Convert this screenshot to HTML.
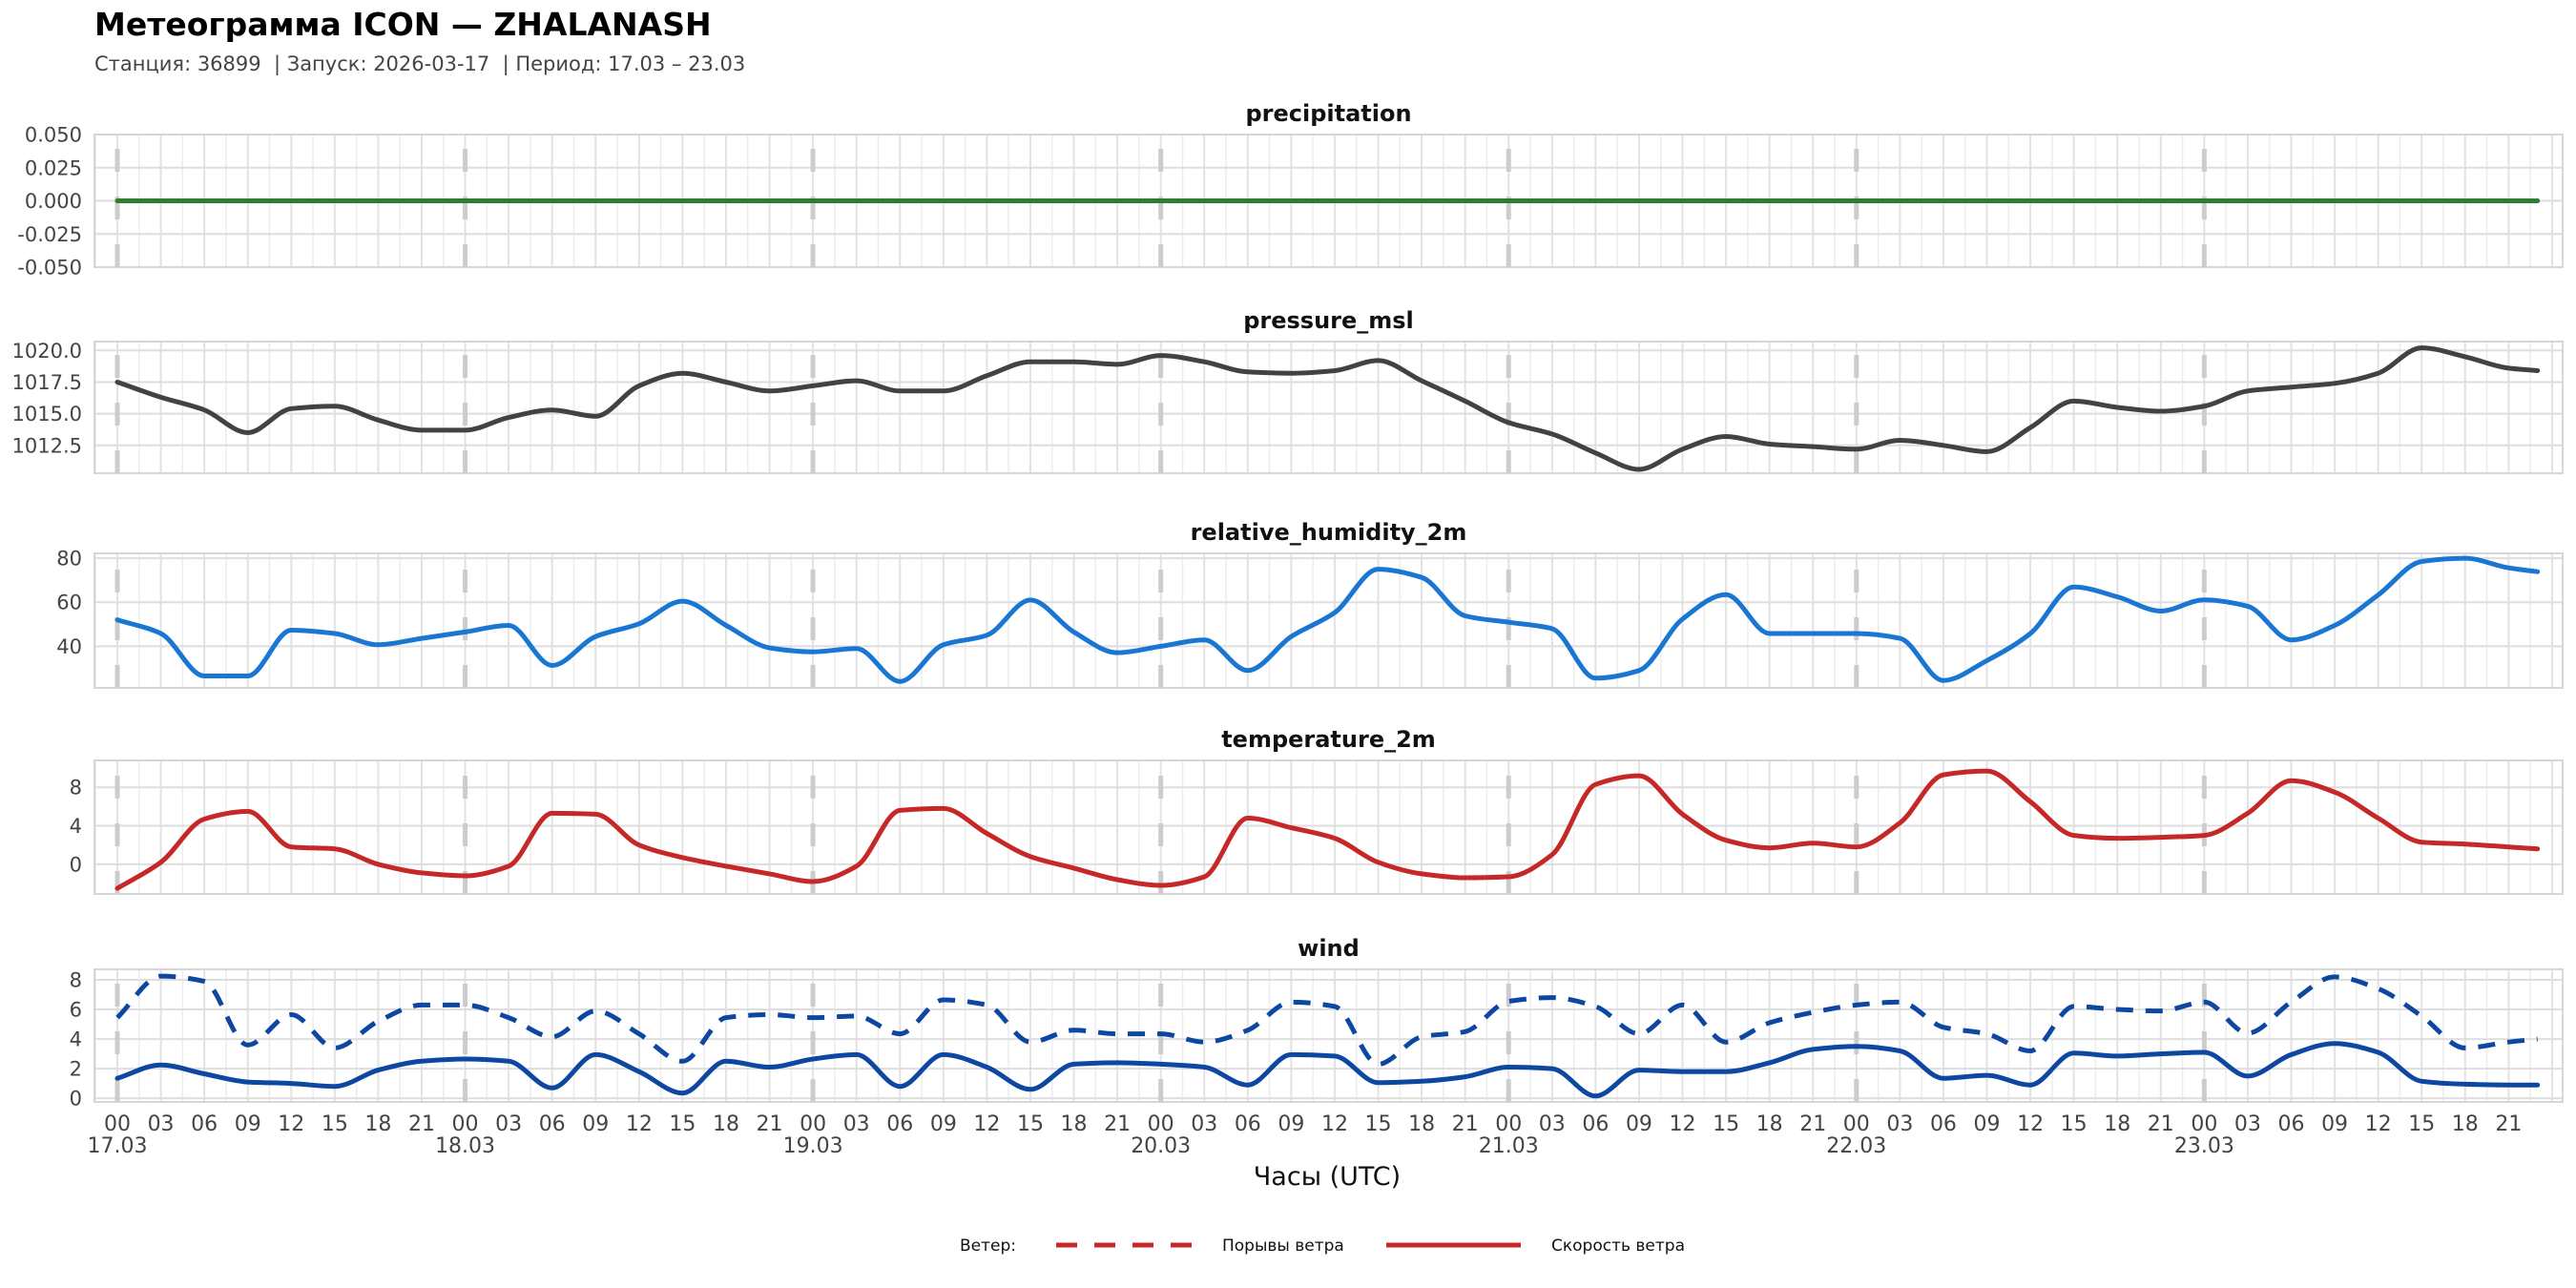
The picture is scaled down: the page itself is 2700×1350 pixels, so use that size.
<!DOCTYPE html>
<html><head><meta charset="utf-8">
<style>
html,body{margin:0;padding:0;background:#fff;}
svg{display:block;font-family:"DejaVu Sans","Liberation Sans",sans-serif;}
</style></head>
<body>
<svg id="chart" width="2700" height="1350" viewBox="0 0 2700 1350" xmlns="http://www.w3.org/2000/svg">
<rect x="0" y="0" width="2700" height="1350" fill="#fff"/>
<text x="99" y="37" font-size="33" font-weight="bold" fill="#000">Метеограмма ICON — ZHALANASH</text>
<text x="99" y="74" font-size="21" fill="#444" style="white-space:pre" xml:space="preserve">Станция: 36899  | Запуск: 2026-03-17  | Период: 17.03 – 23.03</text>
<g id="panels"></g>
<text x="1391" y="1242" font-size="27" text-anchor="middle" fill="#111">Часы (UTC)</text>
<g>
<text x="1006" y="1311" font-size="17" fill="#111">Ветер:</text>
<line x1="1107" y1="1305" x2="1250" y2="1305" stroke="#c62828" stroke-width="5" stroke-dasharray="22 18"/>
<text x="1281" y="1311" font-size="17" fill="#111">Порывы ветра</text>
<line x1="1453" y1="1305" x2="1594" y2="1305" stroke="#c62828" stroke-width="5"/>
<text x="1626" y="1311" font-size="17" fill="#111">Скорость ветра</text>
</g>
</svg>
<script>
const hours = [0,3,6,9,12,15,18,21,24,27,30,33,36,39,42,45,48,51,54,57,60,63,66,69,72,75,78,81,84,87,90,93,96,99,102,105,108,111,114,117,120,123,126,129,132,135,138,141,144,147,150,153,156,159,162,165,167];
const dayLabels = ["17.03","18.03","19.03","20.03","21.03","22.03","23.03"];
const precipitation = hours.map(function(){return 0;});
const pressureMsl = [1017.5,1016.3,1015.3,1013.5,1015.4,1015.6,1014.5,1013.7,1013.7,1014.7,1015.3,1014.8,1017.2,1018.2,1017.5,1016.8,1017.2,1017.6,1016.8,1016.8,1018.0,1019.1,1019.1,1018.9,1019.6,1019.1,1018.3,1018.2,1018.4,1019.2,1017.6,1016.0,1014.3,1013.4,1011.9,1010.6,1012.2,1013.2,1012.6,1012.4,1012.2,1012.9,1012.5,1012.0,1013.9,1016.0,1015.5,1015.2,1015.6,1016.8,1017.1,1017.4,1018.2,1020.2,1019.5,1018.6,1018.4];
const humidity = [52,45.8,26.5,26.5,47.3,45.8,40.7,43.6,46.5,49.5,31.3,44.4,50.2,60.5,49.5,39.3,37.5,39,24,40.7,45,61,46.5,37.1,40,42.9,29,44.4,55.3,75,71.3,53.8,50.9,48,25.5,29,52.4,63.5,45.8,45.8,45.8,43.6,24.5,33.5,45.8,66.9,62.5,56,61.1,58.2,42.9,49.5,63.3,78.5,80,75.6,73.9];
const temperature = [-2.5,0.2,4.7,5.5,1.8,1.6,0,-0.9,-1.2,-0.2,5.3,5.2,2.0,0.7,-0.2,-1.0,-1.8,-0.2,5.6,5.8,3.2,0.8,-0.4,-1.6,-2.2,-1.3,4.8,3.8,2.7,0.2,-1.0,-1.4,-1.3,1.0,8.3,9.2,5.2,2.5,1.7,2.2,1.8,4.3,9.3,9.7,6.5,3.0,2.7,2.8,3.0,5.3,8.7,7.5,4.8,2.3,2.1,1.8,1.6];
const windSpeed = [1.35,2.25,1.65,1.1,1.0,0.8,1.9,2.5,2.65,2.5,0.7,2.95,1.8,0.35,2.5,2.1,2.65,2.95,0.8,2.95,2.1,0.6,2.3,2.4,2.3,2.1,0.9,2.95,2.85,1.05,1.15,1.45,2.1,2.0,0.15,1.9,1.8,1.8,2.4,3.3,3.5,3.2,1.35,1.55,0.9,3.05,2.85,3.0,3.1,1.5,2.95,3.7,3.1,1.15,0.95,0.9,0.9];
const windGusts = [5.45,8.25,7.9,3.6,5.65,3.4,5.2,6.3,6.3,5.45,4.15,5.9,4.35,2.5,5.45,5.65,5.45,5.55,4.35,6.65,6.3,3.8,4.6,4.35,4.35,3.8,4.6,6.5,6.2,2.3,4.15,4.5,6.55,6.8,6.2,4.35,6.3,3.8,5.1,5.8,6.3,6.5,4.8,4.35,3.2,6.2,6.0,5.9,6.5,4.4,6.5,8.2,7.4,5.55,3.4,3.8,4.0];
const precipTicks = [0.05,0.025,0,-0.025,-0.05];
const pressureTicks = [1020,1017.5,1015,1012.5];
const humidityTicks = [80,60,40];
const temperatureTicks = [8,4,0];
const windTicks = [8,6,4,2,0];

const NS = "http://www.w3.org/2000/svg";
const PL = 99, PR = 2686;
function xh(h){ return 123 + h * 15.19; }
function mk(tag, attrs, parent){
  const e = document.createElementNS(NS, tag);
  for (const k in attrs) e.setAttribute(k, attrs[k]);
  parent.appendChild(e);
  return e;
}
// monotone cubic path through points
function monoPath(px, py){
  const n = px.length;
  const dx = [], s = [], m = [];
  for (let i = 0; i < n - 1; i++) { dx[i] = px[i+1] - px[i]; s[i] = (py[i+1] - py[i]) / dx[i]; }
  m[0] = s[0]; m[n-1] = s[n-2];
  for (let i = 1; i < n - 1; i++) {
    if (s[i-1] * s[i] <= 0) m[i] = 0;
    else m[i] = 3 * (dx[i-1] + dx[i]) / ((2*dx[i] + dx[i-1]) / s[i-1] + (dx[i] + 2*dx[i-1]) / s[i]);
  }
  let d = "M" + px[0].toFixed(1) + "," + py[0].toFixed(1);
  for (let i = 0; i < n - 1; i++) {
    const h = dx[i] / 3;
    d += " C" + (px[i] + h).toFixed(1) + "," + (py[i] + m[i]*h).toFixed(1) + " " +
         (px[i+1] - h).toFixed(1) + "," + (py[i+1] - m[i+1]*h).toFixed(1) + " " +
         px[i+1].toFixed(1) + "," + py[i+1].toFixed(1);
  }
  return d;
}
const root = document.getElementById("panels");

function panel(name, title, top, bottom, vmin, vmax, ticks, fmt, series){
  const g = mk("g", {}, root);
  
  
  const y = function(v){ return bottom - (v - vmin) / (vmax - vmin) * (bottom - top); };
  const t = mk("text", {x: (PL+PR)/2, y: top - 14, "font-size": 24, "font-weight": "bold", "text-anchor": "middle", fill: "#111"}, g);
  t.textContent = title;
  
  
  for (let h = -1.5; h <= 169; h += 1.5) {
    const x = xh(h);
    if (x <= PL || x >= PR) continue;
    const major = Math.abs(h % 3) < 0.01;
    mk("line", {x1: x, y1: top, x2: x, y2: bottom, stroke: major ? "#e2e2e2" : "#ececec", "stroke-width": major ? 2 : 1.5}, g);
  }
  ticks.forEach(function(v){
    const yy = y(v);
    mk("line", {x1: PL, y1: yy, x2: PR, y2: yy, stroke: "#dedede", "stroke-width": 2}, g);
    const lb = mk("text", {x: 86, y: yy + 7.5, "font-size": 21, "text-anchor": "end", fill: "#444"}, g);
    lb.textContent = fmt(v);
    
    
  });
  mk("rect", {x: PL, y: top, width: PR - PL, height: bottom - top, fill: "none", stroke: "#d6d6d6", "stroke-width": 2}, g);
  for (let d = 0; d < dayLabels.length; d++) {
    const x = xh(d * 24);
    const dl = mk("line", {x1: x, y1: bottom, x2: x, y2: top, stroke: "#cccccc", "stroke-width": 5, "stroke-dasharray": "24 26"}, g);
    
    
  }
  series.forEach(function(s){
    const px = hours.map(xh);
    const py = s.values.map(y);
    const p = mk("path", {d: monoPath(px, py), fill: "none", stroke: s.color, "stroke-width": 5, "stroke-linejoin": "round", "stroke-linecap": s.dash ? "butt" : "round"}, g);
    if (s.dash) p.setAttribute("stroke-dasharray", s.dash);
    
    
  });
}

panel("precipitation", "precipitation", 141, 280, -0.05, 0.05, precipTicks, function(v){ return v.toFixed(3); },
  [{name: "precipitation-line", values: precipitation, color: "#2e7d32"}]);
panel("pressure", "pressure_msl", 358, 496, 1010.3, 1020.7, pressureTicks, function(v){ return v.toFixed(1); },
  [{name: "pressure-line", values: pressureMsl, color: "#424242"}]);
panel("humidity", "relative_humidity_2m", 580, 721, 21.1, 82.2, humidityTicks, function(v){ return String(v); },
  [{name: "humidity-line", values: humidity, color: "#1976d2"}]);
panel("temperature", "temperature_2m", 797, 937, -3.09, 10.8, temperatureTicks, function(v){ return String(v); },
  [{name: "temperature-line", values: temperature, color: "#c62828"}]);
panel("wind", "wind", 1016, 1155, -0.25, 8.71, windTicks, function(v){ return String(v); },
  [{name: "wind-gust-line", values: windGusts, color: "#0d47a1", dash: "18 13"},
   {name: "wind-speed-line", values: windSpeed, color: "#0d47a1"}]);

const xg = mk("g", {}, root);


for (let h = 0; h <= 165; h += 3) {
  const t = mk("text", {x: xh(h), y: 1185, "font-size": 22, "text-anchor": "middle", fill: "#444"}, xg);
  t.textContent = String(h % 24).padStart(2, "0");
  
  
}
dayLabels.forEach(function(lbl, d){
  const t = mk("text", {x: xh(d * 24), y: 1208, "font-size": 22, "text-anchor": "middle", fill: "#444"}, xg);
  t.textContent = lbl;
  
  
});
</script>
</body></html>
